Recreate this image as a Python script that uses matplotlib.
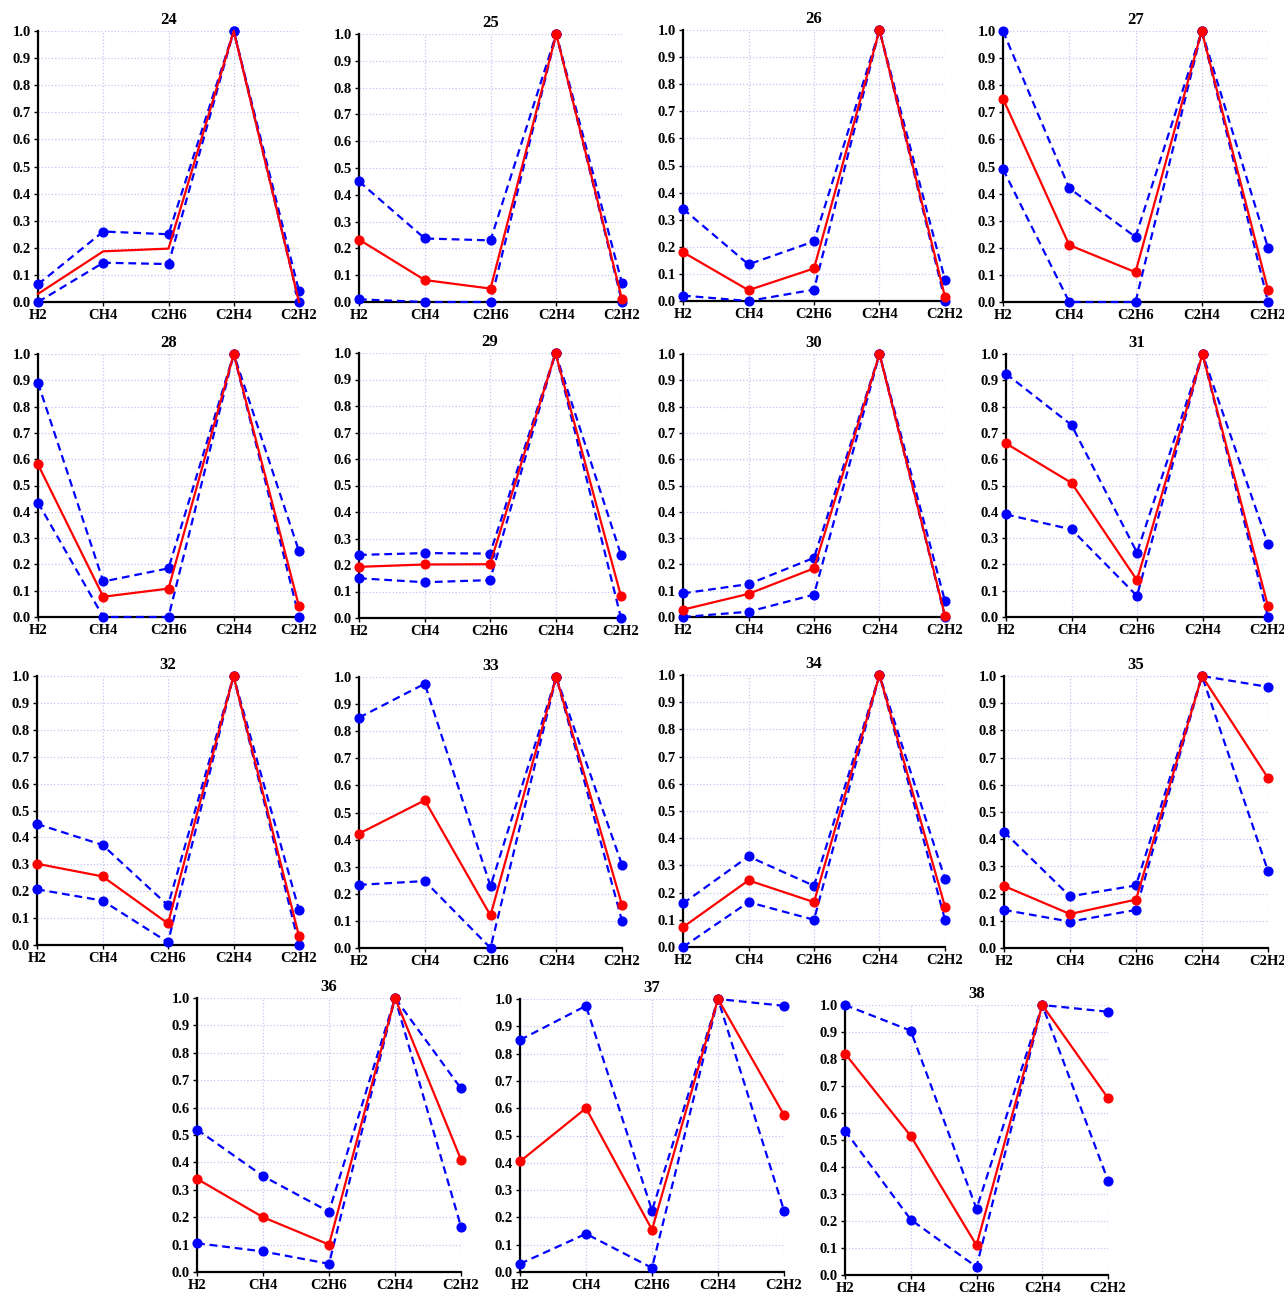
import numpy as np
import matplotlib
matplotlib.use("Agg")
import matplotlib.pyplot as plt

# gases on the x axis
gases = ['H2', 'CH4', 'C2H6', 'C2H4', 'C2H2']

# panel titles
cases = ['24', '25', '26', '27', '28', '29', '30', '31',
         '32', '33', '34', '35', '36', '37', '38']

# upper bound (blue dashed)
upper = [
    [0.065, 0.26, 0.25, 1.0, 0.04],
    [0.45, 0.237, 0.23, 1.0, 0.07],
    [0.34, 0.135, 0.22, 1.0, 0.078],
    [1.0, 0.42, 0.24, 1.0, 0.20],
    [0.89, 0.135, 0.185, 1.0, 0.25],
    [0.238, 0.245, 0.243, 1.0, 0.238],
    [0.09, 0.125, 0.225, 1.0, 0.06],
    [0.925, 0.73, 0.245, 1.0, 0.278],
    [0.45, 0.372, 0.147, 1.0, 0.13],
    [0.85, 0.975, 0.228, 1.0, 0.307],
    [0.16, 0.333, 0.225, 1.0, 0.25],
    [0.427, 0.19, 0.23, 1.0, 0.96],
    [0.52, 0.35, 0.22, 1.0, 0.67],
    [0.85, 0.975, 0.225, 1.0, 0.975],
    [1.0, 0.905, 0.245, 1.0, 0.975],
]

# lower bound (blue dashed)
lower = [
    [0.0, 0.145, 0.14, 1.0, 0.0],
    [0.01, 0.0, 0.0, 1.0, 0.0],
    [0.02, 0.0, 0.042, 1.0, 0.0],
    [0.49, 0.0, 0.0, 1.0, 0.0],
    [0.435, 0.0, 0.0, 1.0, 0.0],
    [0.15, 0.135, 0.143, 1.0, 0.0],
    [0.0, 0.02, 0.085, 1.0, 0.0],
    [0.39, 0.333, 0.08, 1.0, 0.0],
    [0.207, 0.165, 0.01, 1.0, 0.0],
    [0.233, 0.247, 0.0, 1.0, 0.1],
    [0.0, 0.165, 0.1, 1.0, 0.1],
    [0.14, 0.097, 0.14, 1.0, 0.283],
    [0.105, 0.075, 0.03, 1.0, 0.165],
    [0.03, 0.14, 0.015, 1.0, 0.225],
    [0.535, 0.205, 0.03, 1.0, 0.35],
]

# measured case (red)
actual = [
    [0.03, 0.187, 0.197, 1.0, 0.0],
    [0.233, 0.082, 0.05, 1.0, 0.01],
    [0.18, 0.04, 0.12, 1.0, 0.015],
    [0.75, 0.21, 0.11, 1.0, 0.045],
    [0.58, 0.077, 0.108, 1.0, 0.04],
    [0.193, 0.202, 0.203, 1.0, 0.082],
    [0.028, 0.088, 0.185, 1.0, 0.005],
    [0.66, 0.51, 0.14, 1.0, 0.04],
    [0.302, 0.255, 0.08, 1.0, 0.033],
    [0.422, 0.545, 0.12, 1.0, 0.158],
    [0.073, 0.245, 0.165, 1.0, 0.148],
    [0.228, 0.125, 0.178, 1.0, 0.625],
    [0.34, 0.20, 0.10, 1.0, 0.41],
    [0.405, 0.60, 0.155, 1.0, 0.575],
    [0.82, 0.515, 0.11, 1.0, 0.655],
]

W, H = 1284, 1297
fig = plt.figure(figsize=(W / 100, H / 100), dpi=100)
plt.rcParams['font.family'] = ['Liberation Serif', 'DejaVu Serif']

# axes boxes in pixels: left, right, top, bottom
boxes = [
    (38, 299, 31, 302), (359, 622, 34, 302), (683, 945, 30, 301), (1003, 1268, 31, 302),
    (38, 299, 354, 617), (359, 621, 353, 618), (683, 945, 354, 617), (1006, 1268, 354, 617),
    (37, 299, 676, 945), (359, 622, 677, 948), (683, 945, 675, 947), (1004, 1268, 676, 948),
    (197, 461, 998, 1272), (520, 784, 999, 1272), (845, 1108, 1005, 1275),
]

x = np.arange(len(gases))
for i, (l, r, t, b) in enumerate(boxes):
    ax = fig.add_axes([l / W, 1 - b / H, (r - l) / W, (b - t) / H])
    for s in (upper[i], lower[i]):
        ax.plot(x, s, color='#0000ff', lw=1.6, ls=(0, (3.5, 2.2)),
                marker='o', ms=6.3, clip_on=False, zorder=3)
    ax.plot(x, actual[i], color='#ff0000', lw=1.6,
            marker=None if i == 0 else 'o', ms=6.3, clip_on=False, zorder=4)

    ax.set_xlim(0, 4)
    ax.set_ylim(0, 1)
    ax.set_xticks(x)
    ax.set_xticklabels(gases)
    ax.set_yticks(np.arange(0, 1.01, 0.1))
    ax.set_yticklabels([f'{v:.1f}' for v in np.arange(0, 1.01, 0.1)])
    for lab in ax.get_xticklabels() + ax.get_yticklabels():
        lab.set_fontweight('bold')
        lab.set_fontsize(10.5)
    ax.tick_params(length=3, width=1, pad=2)
    ax.grid(True, color='#c4c4f4', ls=':', lw=0.9)
    ax.set_axisbelow(True)
    for sp in ('top', 'right'):
        ax.spines[sp].set_visible(False)
    for sp in ('left', 'bottom'):
        ax.spines[sp].set_linewidth(1.6)
    ax.set_title(cases[i], fontsize=12, fontweight='bold', pad=5)

fig.savefig('out.png', dpi=100)
